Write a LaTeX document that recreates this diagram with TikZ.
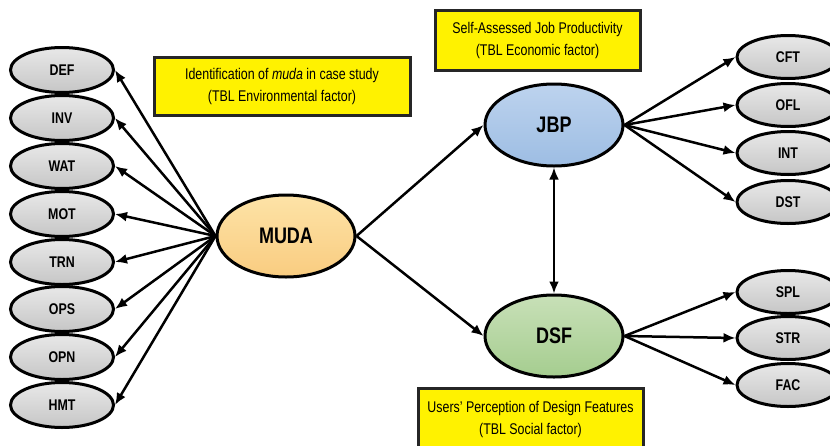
\documentclass[tikz,border=0pt]{standalone}
\usepackage{fontspec}
\setmainfont[FakeStretch=0.8]{Liberation Sans}
\usetikzlibrary{arrows.meta,shapes.geometric}
\definecolor{grayT}{HTML}{E8E8E8}
\definecolor{grayB}{HTML}{C6C6C6}
\definecolor{mudaT}{HTML}{FDE3A7}
\definecolor{mudaB}{HTML}{F9CC80}
\definecolor{jbpT}{HTML}{BDD3EE}
\definecolor{jbpB}{HTML}{9DBDE3}
\definecolor{dsfT}{HTML}{C8E0B8}
\definecolor{dsfB}{HTML}{A5CD8F}
\tikzset{
  smallell/.style={ellipse, draw, line width=3pt, minimum width=103pt, minimum height=45pt, inner sep=0pt,
    top color=grayT, bottom color=grayB, font=\fontsize{15.5}{17}\selectfont\bfseries},
  bigell/.style={ellipse, draw, line width=3pt, minimum width=138pt, minimum height=82pt, inner sep=0pt,
    font=\fontsize{22.5}{26}\selectfont\bfseries},
  arr/.style={-{Latex[length=12pt,width=10pt]}, line width=2.5pt},
  darr/.style={{Latex[length=12pt,width=10pt]}-{Latex[length=12pt,width=10pt]}, line width=2.5pt},
  ybox/.style={rectangle, draw=black!85, line width=3pt, fill=yellow, align=center, inner sep=0pt,
    font=\fontsize{15.5}{22}\selectfont}
}
\begin{document}
\begin{tikzpicture}[x=1pt,y=-1pt]
\useasboundingbox (0,0) rectangle (830,445);
\clip (0,0) rectangle (830,445);
% left ellipses
\node[smallell] (def) at (62,70) {DEF};
\node[smallell] (inv) at (62,118) {INV};
\node[smallell] (wat) at (62,166) {WAT};
\node[smallell] (mot) at (62,214) {MOT};
\node[smallell] (trn) at (62,262) {TRN};
\node[smallell] (ops) at (62,309) {OPS};
\node[smallell] (opn) at (62,357) {OPN};
\node[smallell] (hmt) at (62,405) {HMT};
% central
\node[bigell, top color=mudaT, bottom color=mudaB] (muda) at (286,236) {MUDA};
\node[bigell, top color=jbpT, bottom color=jbpB] (jbp) at (554,125) {JBP};
\node[bigell, top color=dsfT, bottom color=dsfB] (dsf) at (554,336) {DSF};
% right ellipses
\node[smallell, minimum width=102pt, minimum height=43pt] (cft) at (788,57) {CFT};
\node[smallell, minimum width=102pt, minimum height=43pt] (ofl) at (788,105) {OFL};
\node[smallell, minimum width=102pt, minimum height=43pt] (int) at (788,153) {INT};
\node[smallell, minimum width=102pt, minimum height=43pt] (dst) at (788,202) {DST};
\node[smallell, minimum width=102pt, minimum height=43pt] (spl) at (788,292) {SPL};
\node[smallell, minimum width=102pt, minimum height=43pt] (str) at (788,338) {STR};
\node[smallell, minimum width=102pt, minimum height=43pt] (fac) at (788,385) {FAC};
% yellow boxes
\node[ybox, minimum width=256pt, minimum height=58pt] (b1) at (282,86) {Identification of \textit{muda} in case study\\(TBL Environmental factor)};
\node[ybox, minimum width=205pt, minimum height=60pt] (b2) at (537.5,40) {Self-Assessed Job Productivity\\(TBL Economic factor)};
\node[ybox, minimum width=225pt, minimum height=62pt] (b3) at (530.5,419) {Users' Perception of Design Features\\(TBL Social factor)};
% arrows
\foreach \t in {def,inv,wat,mot,trn,ops,opn,hmt}
  \draw[arr] (muda.west) -- (\t.east);
\draw[arr] (muda.east) -- (jbp.west);
\draw[arr] (muda.east) -- (dsf.west);
\draw[darr] (jbp.south) -- (dsf.north);
\foreach \t in {cft,ofl,int,dst}
  \draw[arr] (jbp.east) -- (\t.west);
\foreach \t in {spl,str,fac}
  \draw[arr] (dsf.east) -- (\t.west);
\end{tikzpicture}
\end{document}
